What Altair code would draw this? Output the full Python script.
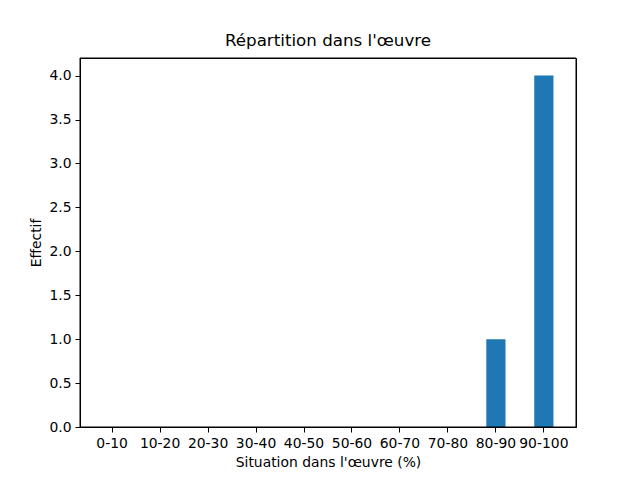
import altair as alt
import pandas as pd

categories = ["0-10", "10-20", "20-30", "30-40", "40-50", "50-60", "60-70", "70-80", "80-90", "90-100"]
counts = [0, 0, 0, 0, 0, 0, 0, 0, 1, 4]

df = pd.DataFrame({"cat": categories, "n": counts})

font = "DejaVu Sans"
W, H = 496, 369

bars = alt.Chart(df).mark_bar(color="#1f77b4").encode(
    x=alt.X("cat:N", sort=categories,
            scale=alt.Scale(paddingInner=0.6, paddingOuter=0.47),
            axis=alt.Axis(title="Situation dans l'œuvre (%)", labelAngle=0,
                          tickSize=5, labelPadding=4, titlePadding=6,
                          labelFontSize=13.9, titleFontSize=13.9,
                          labelFont=font, titleFont=font, titleFontWeight="normal",
                          labelColor="black", titleColor="black",
                          domainColor="black", tickColor="black", grid=False)),
    y=alt.Y("n:Q", scale=alt.Scale(domain=[0, 4.2], nice=False),
            axis=alt.Axis(title="Effectif", values=[0, 0.5, 1, 1.5, 2, 2.5, 3, 3.5, 4],
                          format=".1f", tickSize=5, labelPadding=4, titlePadding=5,
                          labelFontSize=13.9, titleFontSize=13.9,
                          labelFont=font, titleFont=font, titleFontWeight="normal",
                          labelColor="black", titleColor="black",
                          domainColor="black", tickColor="black", grid=False)),
)

frame = alt.Chart(pd.DataFrame({"k": [0]})).mark_rect(
    filled=False, stroke="black", strokeWidth=1
).encode(
    x=alt.value(0), x2=alt.value(W), y=alt.value(0), y2=alt.value(H)
)

chart = alt.layer(bars, frame).properties(
    width=W, height=H,
    title=alt.Title("Répartition dans l'œuvre", font=font, fontSize=16.7,
                    fontWeight="normal", color="black", offset=8),
    autosize=alt.AutoSizeParams(type="none"),
    padding={"left": 72, "top": 50, "right": 56, "bottom": 45},
).configure(
    background="white",
    view=alt.ViewConfig(stroke="black", strokeWidth=1),
)

chart.save("out.html", embed_options={"renderer": "svg", "actions": False})
